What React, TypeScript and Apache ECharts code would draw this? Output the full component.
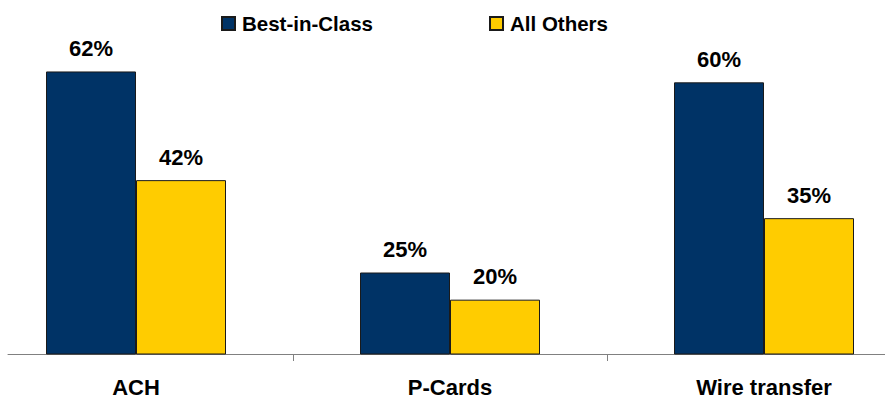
import React, { useEffect, useRef } from "react";
import * as echarts from "echarts";

const categories = ["ACH", "P-Cards", "Wire transfer"];
const bestInClass = [62, 25, 60];
const allOthers = [42, 20, 35];
const seriesNames = ["Best-in-Class", "All Others"];

const FONT = "'Liberation Sans', Arial, Helvetica, sans-serif";

export default function App() {
  const ref = useRef<HTMLDivElement>(null);
  useEffect(() => {
    if (!ref.current) return;
    const chart = echarts.init(ref.current, undefined, { renderer: "svg" });
    const labelStyle = {
      show: true,
      position: "top" as const,
      distance: 12,
      formatter: "{c}%",
      fontFamily: FONT,
      fontWeight: "bold" as const,
      fontSize: 22,
      color: "#000",
    };
    chart.setOption({
      animation: false,
      backgroundColor: "#fff",
      legend: {
        data: seriesNames,
        top: 8,
        left: 237,
        itemWidth: 13,
        itemHeight: 13,
        itemGap: 116,
        icon: "rect",
        textStyle: { fontFamily: FONT, fontWeight: "bold", fontSize: 20.5, color: "#000", padding: [0, 0, 0, 2] },
      },
      grid: [
        { left: 0, right: 15, top: 28, bottom: 47, containLabel: false },
        { left: 29, right: 0, top: 28, bottom: 47, containLabel: false },
      ],
      xAxis: [
        {
          type: "category",
          data: categories,
          gridIndex: 0,
          axisLine: { show: false },
          axisTick: { show: true, length: 7, lineStyle: { color: "#808080", width: 1 } },
          axisLabel: { fontFamily: FONT, fontWeight: "bold", fontSize: 22, color: "#000", margin: 22 },
        },
        {
          type: "value",
          gridIndex: 1,
          min: 0,
          max: 1,
          axisLine: { show: true, lineStyle: { color: "#808080", width: 1 } },
          axisTick: { show: false },
          axisLabel: { show: false },
          splitLine: { show: false },
        },
      ],
      yAxis: [
        { type: "value", gridIndex: 0, min: 10, max: 70, show: false, splitLine: { show: false } },
        { type: "value", gridIndex: 1, min: 0, max: 1, show: false, splitLine: { show: false } },
      ],
      series: [
        {
          name: seriesNames[0],
          type: "bar",
          data: bestInClass,
          barWidth: 90,
          barGap: "0%",
          itemStyle: { color: "#003366", borderColor: "#1a1a1a", borderWidth: 1 },
          label: labelStyle,
        },
        {
          name: seriesNames[1],
          type: "bar",
          data: allOthers,
          barWidth: 90,
          barGap: "0%",
          itemStyle: { color: "#FFCC00", borderColor: "#1a1a1a", borderWidth: 1 },
          label: labelStyle,
        },
      ],
    });
    return () => chart.dispose();
  }, []);
  return (
    <div
      ref={ref}
      style={{ position: "fixed", left: -21, top: 0, width: 957, height: 401, background: "#fff" }}
    />
  );
}
